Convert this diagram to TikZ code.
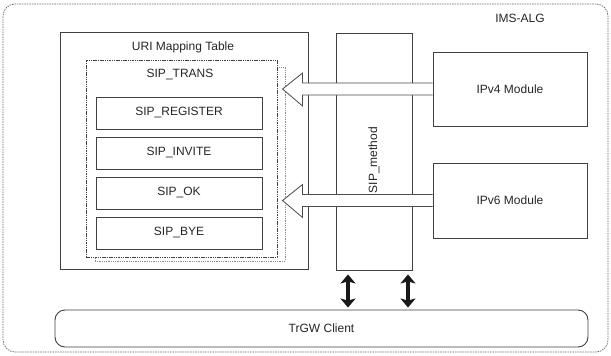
\documentclass[tikz,border=0pt]{standalone}
\usepackage{fontspec}
\setmainfont{Liberation Sans}
\usetikzlibrary{arrows.meta,calc}
\begin{document}
\begin{tikzpicture}[x=1pt,y=-1pt,
  every node/.style={font=\fontsize{12}{14}\selectfont, text=black!85},
  box/.style={draw=black!75, line width=0.9pt, fill=white, inner sep=0pt},
  dbox/.style={box, dash pattern=on 1.5pt off 0.8pt},
  lbl/.style={inner sep=0pt},
  blockarrow/.style={draw=black!70, line width=0.8pt, fill=white, line join=miter},
  dbl/.style={{Stealth[length=9pt,width=15pt,inset=2pt]}-{Stealth[length=9pt,width=15pt,inset=2pt]}, line width=3.2pt, black!90}]
\useasboundingbox (0,0) rectangle (611,356);
% outer
\node[draw=black!60, dash pattern=on 1.5pt off 1pt, line width=0.7pt, rounded corners=12pt, minimum width=605, minimum height=348, inner sep=0pt] (outer) at (305.5,178) {};
\node[lbl] (ims) at (520,18) {IMS-ALG};
% URI mapping table
\node[box, minimum width=248, minimum height=237] (uri) at (184,150.5) {};
\node[lbl] (urit) at (183,47) {URI Mapping Table};
\node[draw=black!45, dash pattern=on 1pt off 0.8pt, line width=0.8pt, fill=white, minimum width=190, minimum height=194, inner sep=0pt] (shadow) at (190,164) {};
\node[dbox, minimum width=191, minimum height=197] (trans) at (181.5,158.5) {};
\node[lbl] (transt) at (180,75) {SIP\_TRANS};
\node[box, minimum width=166, minimum height=32] (reg) at (179,113) {SIP\_REGISTER};
\node[box, minimum width=166, minimum height=32] (inv) at (179,153) {SIP\_INVITE};
\node[box, minimum width=166, minimum height=32] (ok) at (179,193) {SIP\_OK};
\node[box, minimum width=166, minimum height=32] (bye) at (179,233) {SIP\_BYE};
% SIP method column
\node[box, minimum width=76, minimum height=237] (meth) at (374,151.5) {};
\node[lbl, rotate=90] (metht) at (374,160) {SIP\_method};
% modules
\node[box, minimum width=154, minimum height=74] (ipv4) at (510,89) {IPv4 Module};
\node[box, minimum width=154, minimum height=75] (ipv6) at (510,200.5) {IPv6 Module};
% client
\node[box, rounded corners=10pt, minimum width=533, minimum height=37] (client) at (321.5,328.5) {TrGW Client};
% block arrows
\draw[blockarrow] ($(ipv4.west)+(0,-6)$) -- ($(ipv4.west)+(-130,-6)$) -- ($(ipv4.west)+(-130,-16)$) -- ($(ipv4.west)+(-150,0)$) -- ($(ipv4.west)+(-130,17)$) -- ($(ipv4.west)+(-130,6)$) -- ($(ipv4.west)+(0,6)$);
\draw[blockarrow] ($(ipv6.west)+(0,-6)$) -- ($(ipv6.west)+(-130,-6)$) -- ($(ipv6.west)+(-130,-16)$) -- ($(ipv6.west)+(-150,0)$) -- ($(ipv6.west)+(-130,17)$) -- ($(ipv6.west)+(-130,6)$) -- ($(ipv6.west)+(0,6)$);
% vertical double arrows
\draw[dbl] ([xshift=-26pt,yshift=-4pt]meth.south) -- ([xshift=-26pt,yshift=2pt]meth.south |- client.north);
\draw[dbl] ([xshift=34pt,yshift=-4pt]meth.south) -- ([xshift=34pt,yshift=2pt]meth.south |- client.north);
\end{tikzpicture}
\end{document}
